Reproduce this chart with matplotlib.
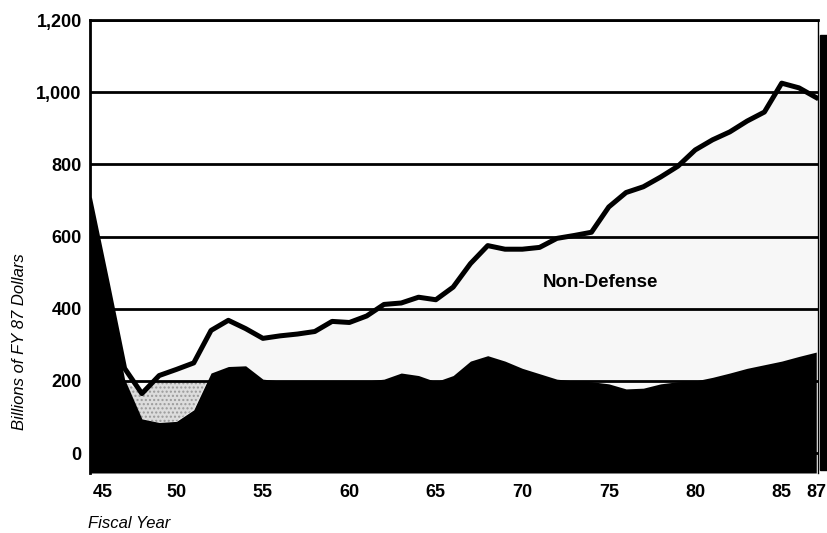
import numpy as np
import matplotlib
matplotlib.use("Agg")
from matplotlib import pyplot as plt
from matplotlib.patches import Rectangle
from matplotlib.transforms import ScaledTranslation

# fiscal years 1945 - 1987, billions of FY87 dollars
years = list(range(45, 88))
total = [700, 470, 235, 165, 215, 232, 250, 340, 368, 345,
         318, 325, 330, 337, 365, 362, 380, 412, 416, 432,
         425, 460, 525, 575, 565, 565, 570, 595, 603, 612,
         682, 722, 738, 765, 795, 840, 868, 890, 920, 945,
         1025, 1012, 985]
defense = [700, 450, 205, 95, 85, 88, 120, 222, 240, 242,
           205, 200, 200, 200, 200, 200, 200, 205, 222, 215,
           198, 215, 255, 270, 255, 235, 220, 205, 200, 198,
           192, 178, 180, 192, 198, 200, 210, 222, 235, 245,
           255, 268, 280]

x_ticks = [45, 50, 55, 60, 65, 70, 75, 80, 85, 87]
x_labels = ["45", "50", "55", "60", "65", "70", "75", "80", "85", "87"]
y_ticks = [0, 200, 400, 600, 800, 1000, 1200]
y_labels = ["0", "200", "400", "600", "800", "1,000", "1,200"]


def main():
    plt.rcParams['font.family'] = ['Liberation Sans', 'DejaVu Sans']

    fig = plt.figure(figsize=(8.28, 5.33), dpi=100)
    ax = fig.add_axes([90 / 828, 60 / 533, 728 / 828, 453 / 533])

    x = np.array(years)
    tot = np.array(total)
    dfn = np.array(defense)
    bottom = -55

    # non-defense band (near white), stippled dip after the war, defense in black
    ax.fill_between(x, dfn, tot, color="#f7f7f7", lw=0, zorder=1)
    ax.fill_between(x, dfn, np.minimum(tot, 200), where=(x <= 52) & (dfn < 200),
                    interpolate=True, color="#dcdcdc", hatch="....",
                    edgecolor="#9a9a9a", lw=0, zorder=1.2)
    ax.fill_between(x, bottom, dfn, color="black", lw=0, zorder=1.5)
    ax.plot(x, tot, color="black", lw=3.6, solid_joinstyle="round", zorder=3)

    ax.set_xlim(45, 87.1)
    ax.set_ylim(bottom, 1200)

    ax.set_yticks(y_ticks)
    ax.set_yticklabels(y_labels, fontsize=13, fontweight="bold")
    ax.set_xticks(x_ticks)
    ax.set_xticklabels(x_labels, fontsize=13, fontweight="bold")
    ax.tick_params(axis="both", length=0)
    ax.tick_params(axis="y", pad=6)
    ax.tick_params(axis="x", pad=8)

    # nudge the "45" label off the corner like the original
    lbl = ax.get_xticklabels()[0]
    lbl.set_transform(lbl.get_transform() + ScaledTranslation(13 / 100, 0, fig.dpi_scale_trans))

    ax.yaxis.grid(True, color="black", lw=2.0)
    ax.set_axisbelow(False)

    ax.spines["top"].set_linewidth(2.0)
    ax.spines["left"].set_linewidth(2.0)
    ax.spines["right"].set_linewidth(1.0)
    ax.spines["bottom"].set_visible(False)

    ax.text(74.5, 474, "Non-Defense", fontsize=13.5, fontweight="bold",
            ha="center", va="center", zorder=4)

    fig.text(20 / 828, 1 - 342 / 533, "Billions of FY 87 Dollars", rotation=90,
             fontsize=12, style="italic", ha="center", va="center")
    fig.text(88 / 828, 1 - 523 / 533, "Fiscal Year", fontsize=12,
             style="italic", ha="left", va="center")

    # heavy right border from the printed original
    fig.patches.append(Rectangle((820 / 828, 63 / 533), 8 / 828, 435 / 533,
                                 transform=fig.transFigure, color="black"))

    fig.savefig("out.png", dpi=100)


if __name__ == '__main__':
    main()
